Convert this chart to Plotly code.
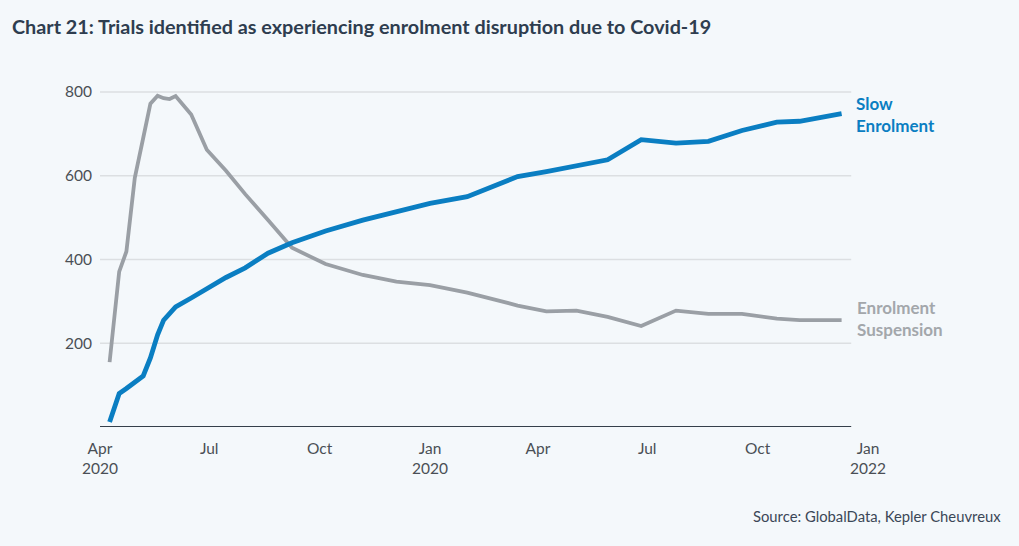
import plotly.graph_objects as go

# Weekly/monthly observation dates
dates = [
    "2020-04-09", "2020-04-17", "2020-04-23", "2020-04-30", "2020-05-07",
    "2020-05-13", "2020-05-19", "2020-05-24", "2020-05-29", "2020-06-03",
    "2020-06-16", "2020-06-29", "2020-07-15", "2020-07-31", "2020-08-19",
    "2020-09-08", "2020-10-06", "2020-11-06", "2020-12-04", "2021-01-01",
    "2021-02-01", "2021-02-24", "2021-03-15", "2021-04-08", "2021-05-03",
    "2021-05-29", "2021-06-26", "2021-07-25", "2021-08-21", "2021-09-18",
    "2021-10-17", "2021-11-05", "2021-12-10",
]

slow_enrolment = [
    12, 80, 92, 108, 122,
    165, 220, 255, 272, 287,
    308, 330, 357, 380, 415,
    440, 468, 494, 514, 534,
    550, 575, 598, 610, 625,
    638, 686, 678, 682, 708,
    728, 730, 748,
]

enrolment_suspension = [
    155, 371, 419, 595, 690,
    772, 791, 785, 783, 790,
    746, 662, 612, 556, 494,
    428, 389, 363, 347, 339,
    321, 304, 290, 276, 278,
    263, 241, 278, 270, 270,
    259, 255, 255,
]

tick_dates = ["2020-04-01", "2020-07-01", "2020-10-01", "2021-01-01",
              "2021-04-01", "2021-07-01", "2021-10-01", "2022-01-01"]
tick_text = ["Apr<br>2020", "Jul", "Oct", "Jan<br>2020", "Apr", "Jul", "Oct", "Jan<br>2022"]
y_ticks = [200, 400, 600, 800]

BLUE = "#0A7EC2"
GREY = "#9A9FA5"
GREY_LABEL = "#A3A7AB"
BG = "#F4F8FB"
FONT = "Lato"

fig = go.Figure()
fig.add_trace(go.Scatter(
    x=dates, y=enrolment_suspension, mode="lines",
    line=dict(color=GREY, width=3.8), name="Enrolment Suspension",
))
fig.add_trace(go.Scatter(
    x=dates, y=slow_enrolment, mode="lines",
    line=dict(color=BLUE, width=4.8), name="Slow Enrolment",
))

plot_end = "2021-12-18"
shapes = []
for v in y_ticks:
    shapes.append(dict(type="line", xref="x", yref="y", x0="2020-04-01", x1=plot_end,
                       y0=v, y1=v, line=dict(color="#DCDFE2", width=1.5), layer="below"))
shapes.append(dict(type="line", xref="x", yref="y", x0="2020-04-01", x1=plot_end,
                   y0=0, y1=0, line=dict(color="#353F4A", width=2)))

annotations = [
    dict(x=1.0, xref="paper", xshift=-14, y=slow_enrolment[-1], yref="y", yshift=-1,
         text="<b>Slow<br>Enrolment</b>", showarrow=False, xanchor="left", yanchor="middle",
         align="left", font=dict(family=FONT, size=17, color=BLUE)),
    dict(x=1.0, xref="paper", xshift=-13, y=enrolment_suspension[-1], yref="y", yshift=2,
         text="<b>Enrolment<br>Suspension</b>", showarrow=False, xanchor="left", yanchor="middle",
         align="left", font=dict(family=FONT, size=17, color=GREY_LABEL)),
    dict(x=1.176, xref="paper", y=-0.25, yref="paper", xanchor="right", yanchor="middle",
         showarrow=False,
         text="Source: GlobalData, Kepler Cheuvreux",
         font=dict(family=FONT, size=14.8, color="#3B4757")),
]

fig.update_layout(
    width=1019, height=546,
    margin=dict(l=100, r=151, t=71, b=119),
    paper_bgcolor=BG, plot_bgcolor=BG,
    showlegend=False,
    title=dict(text="<b>Chart 21: Trials identified as experiencing enrolment disruption due to Covid-19</b>",
               x=0, xref="container", xanchor="left", y=1, yref="container", yanchor="top",
               pad=dict(l=12, t=20),
               font=dict(family=FONT, size=19.8, color="#2E3D4F")),
    shapes=shapes,
    annotations=annotations,
    font=dict(family=FONT, size=15, color="#4A4F55"),
)
fig.update_xaxes(
    type="date", range=["2020-04-01", "2022-01-01"],
    tickvals=tick_dates, ticktext=tick_text,
    showgrid=False, zeroline=False, showline=False, ticks="",
    ticklabelstandoff=10,
    tickfont=dict(family=FONT, size=15.5, color="#4A4F55"),
)
fig.update_yaxes(
    range=[0, 850], tickvals=y_ticks,
    showgrid=False, zeroline=False, showline=False, ticks="",
    ticklabelstandoff=7,
    tickfont=dict(family=FONT, size=15.5, color="#4A4F55"),
)

fig.write_html("out.html")
